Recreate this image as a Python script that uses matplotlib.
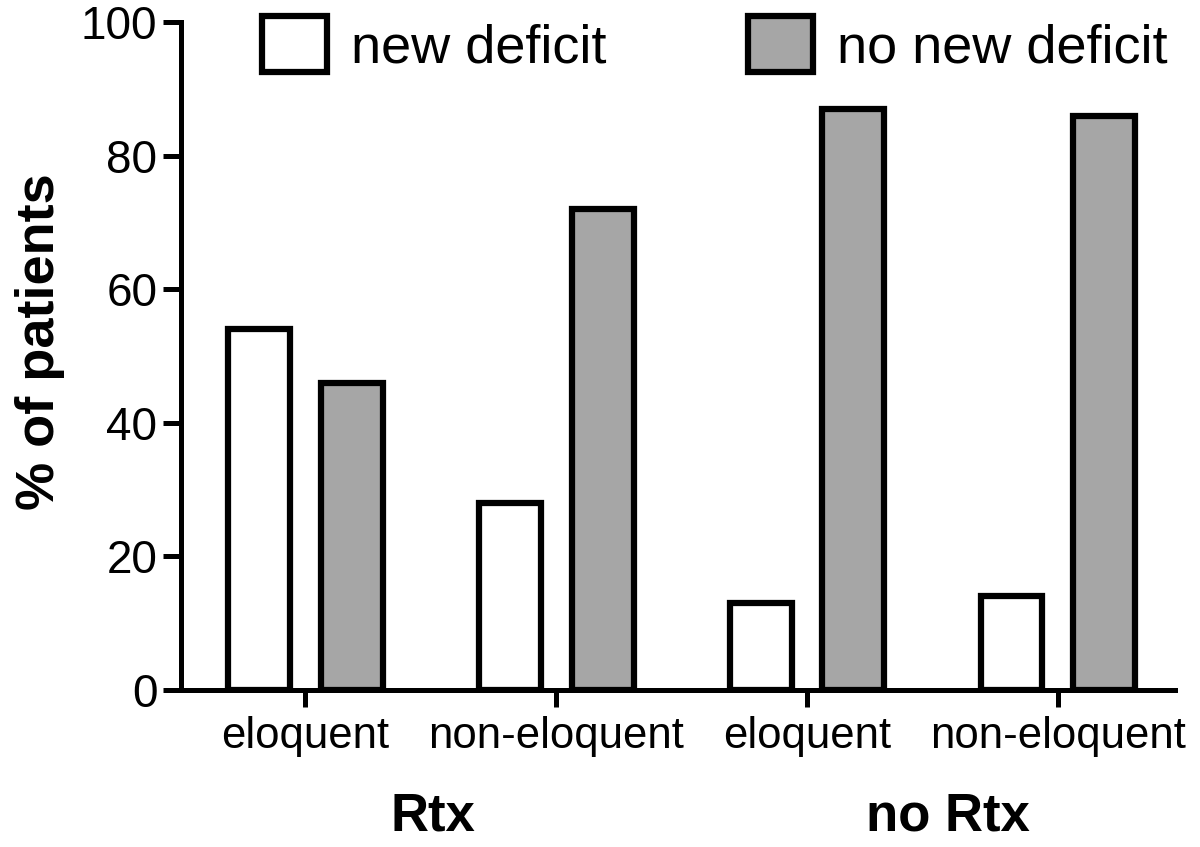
import numpy as np
import matplotlib
matplotlib.use('Agg')
import matplotlib.pyplot as plt

plt.rcParams['font.family'] = ['Liberation Sans', 'DejaVu Sans']

# data
categories=['eloquent','non-eloquent','eloquent','non-eloquent']
groups=['Rtx','no Rtx']
new_deficit=[54,28,13,14]
no_new_deficit=[46,72,87,86]
yticks=[0,20,40,60,80,100]

GRAY='#a6a6a6'
LW=4.5
BW=0.247
OFF=0.185

fig=plt.figure(figsize=(12,8.47),dpi=100)
ax=fig.add_axes([0.1508,0.1854,0.979-0.1508,0.974-0.1854])

x=np.arange(len(categories))
ax.bar(x-OFF,new_deficit,BW,color='white',edgecolor='black',linewidth=LW,label='new deficit',joinstyle='miter')
ax.bar(x+OFF,no_new_deficit,BW,color=GRAY,edgecolor='black',linewidth=LW,label='no new deficit',joinstyle='miter')

ax.set_ylim(0,100)
ax.set_xlim(-0.496,3.466)
ax.set_yticks(yticks)
ax.set_xticks(x)
ax.set_xticklabels(categories,fontsize=31.5)
ax.tick_params(axis='y',labelsize=33,length=13,width=3.6,direction='out',pad=4)
ax.tick_params(axis='x',length=12,width=3.6,direction='out',pad=7)
for s in ['top','right']:
    ax.spines[s].set_visible(False)
for s in ['left','bottom']:
    ax.spines[s].set_linewidth(3.6)
ax.set_ylabel('% of patients',fontsize=39,fontweight='bold')
ax.yaxis.set_label_coords(-0.117,0.521)

for i,g in enumerate(groups):
    ax.text(0.51+2.05*i,-0.19,g,transform=ax.get_xaxis_transform(),ha='center',va='center',fontsize=38,fontweight='bold')

leg=ax.legend(loc='upper left',bbox_to_anchor=(262/1200,1-16/847),bbox_transform=fig.transFigure,
              ncol=2,frameon=False,fontsize=39,handlelength=1.2,handleheight=1.2,
              handletextpad=0.45,columnspacing=2.6,borderpad=0,borderaxespad=0)

fig.savefig('out.png',dpi=100)
